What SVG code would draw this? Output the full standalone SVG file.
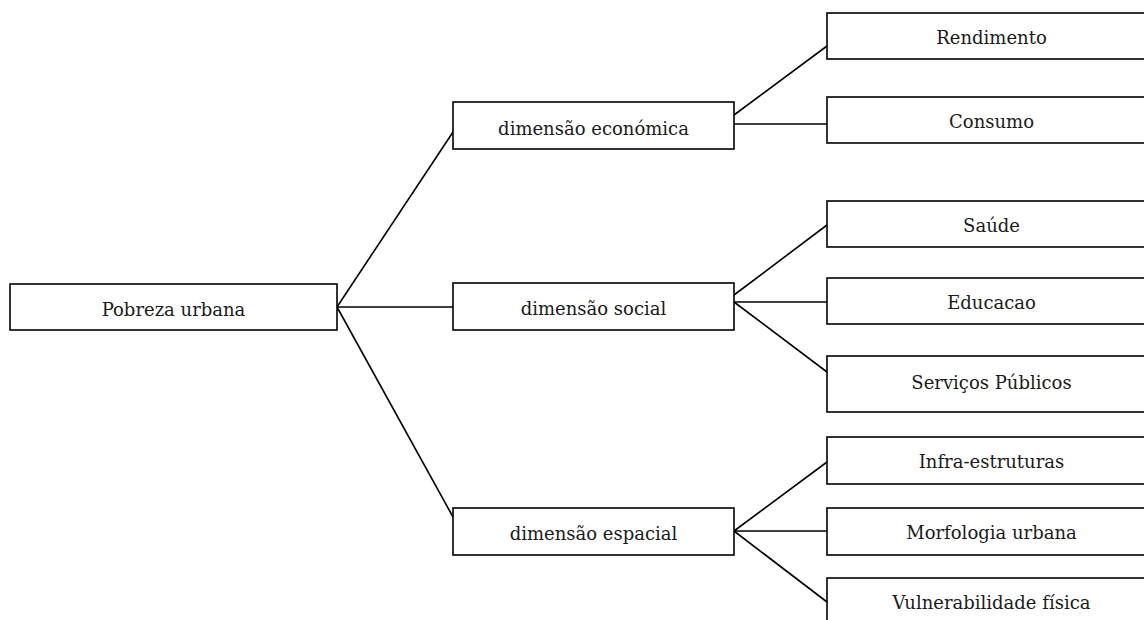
<svg xmlns="http://www.w3.org/2000/svg" width="1144" height="620" viewBox="0 0 1144 620">
<style>
.box{fill:#fff;stroke:#000;stroke-width:1.6}
.lbl{font-family:"DejaVu Serif","Liberation Serif",serif;font-size:18px;fill:#1a1a1a;text-anchor:middle}
.con line{stroke:#000;stroke-width:1.6;stroke-linecap:round}
</style>
<rect width="1144" height="620" fill="#fff"/>
<g id="connectors" class="con">
<line x1="337" y1="307" x2="453" y2="132"/>
<line x1="337" y1="307" x2="453" y2="307"/>
<line x1="337" y1="307" x2="453" y2="517"/>
<line x1="734" y1="115" x2="827" y2="46"/>
<line x1="734" y1="124" x2="827" y2="124"/>
<line x1="734" y1="295" x2="827" y2="225"/>
<line x1="734" y1="302" x2="827" y2="302"/>
<line x1="734" y1="302" x2="827" y2="372"/>
<line x1="734" y1="531" x2="827" y2="462"/>
<line x1="734" y1="531" x2="827" y2="531"/>
<line x1="734" y1="531" x2="827" y2="602"/>
</g>
<g id="n-pobreza"><rect class="box" x="10" y="284" width="327" height="46"/><text class="lbl" x="173.5" y="316">Pobreza urbana</text></g>
<g id="n-economica"><rect class="box" x="453" y="102" width="281" height="47"/><text class="lbl" x="593.5" y="135">dimensão económica</text></g>
<g id="n-social"><rect class="box" x="453" y="283" width="281" height="47"/><text class="lbl" x="593.5" y="315">dimensão social</text></g>
<g id="n-espacial"><rect class="box" x="453" y="508" width="281" height="47"/><text class="lbl" x="593.5" y="540">dimensão espacial</text></g>
<g id="n-rendimento"><rect class="box" x="827" y="13" width="330" height="46"/><text class="lbl" x="991.5" y="44">Rendimento</text></g>
<g id="n-consumo"><rect class="box" x="827" y="97" width="330" height="46"/><text class="lbl" x="991.5" y="128">Consumo</text></g>
<g id="n-saude"><rect class="box" x="827" y="201" width="330" height="46"/><text class="lbl" x="991.5" y="232">Saúde</text></g>
<g id="n-educacao"><rect class="box" x="827" y="278" width="330" height="46"/><text class="lbl" x="991.5" y="309">Educacao</text></g>
<g id="n-servicos"><rect class="box" x="827" y="356" width="330" height="56"/><text class="lbl" x="991.5" y="389">Serviços Públicos</text></g>
<g id="n-infra"><rect class="box" x="827" y="437" width="330" height="47"/><text class="lbl" x="991.5" y="468">Infra-estruturas</text></g>
<g id="n-morfologia"><rect class="box" x="827" y="508" width="330" height="47"/><text class="lbl" x="991.5" y="539">Morfologia urbana</text></g>
<g id="n-vulnerabilidade"><rect class="box" x="827" y="578" width="330" height="60"/><text class="lbl" x="991.5" y="609">Vulnerabilidade física</text></g>
</svg>
